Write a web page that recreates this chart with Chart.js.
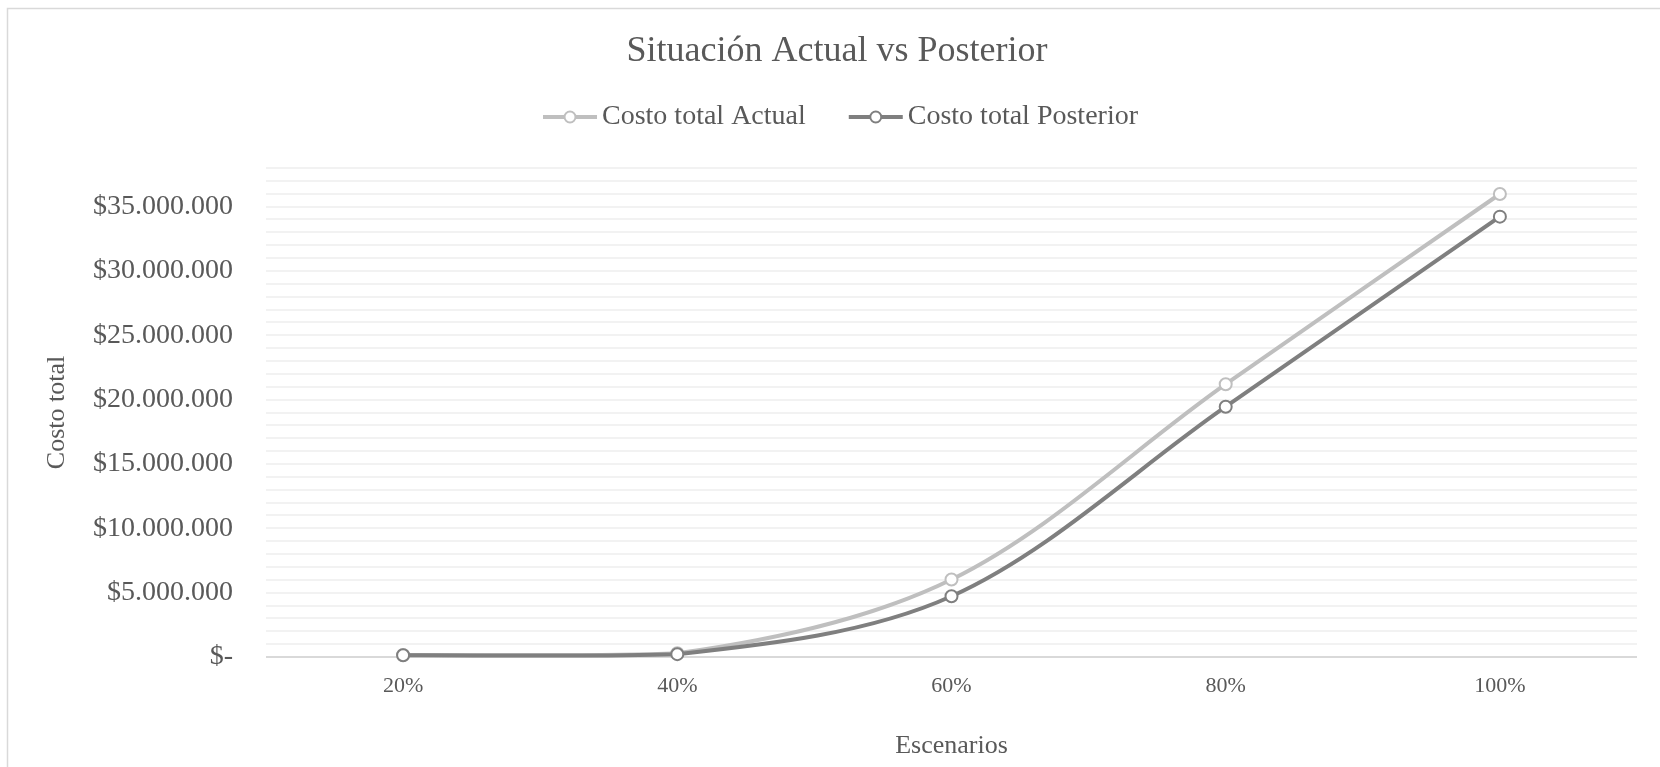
<!DOCTYPE html>
<html>
<head>
<meta charset="utf-8">
<script src="https://cdn.jsdelivr.net/npm/chart.js@4.4.1/dist/chart.umd.min.js"></script>
<style>
  html, body { margin: 0; padding: 0; background: #ffffff; }
  #wrap { width: 1660px; height: 767px; position: relative; }
</style>
</head>
<body>
<div id="wrap"><canvas id="chart"></canvas></div>
<script>
// Scenario categories and total cost per scenario
const categories = ['20%', '40%', '60%', '80%', '100%'];
const costoActual = [150000, 290000, 6020000, 21200000, 35980000];
const costoPosterior = [140000, 220000, 4720000, 19450000, 34220000];
const seriesNames = ['Costo total Actual', 'Costo total Posterior'];

// Axis range: minor grid every 1.000.000, labels every 5.000.000
const yMax = 38000000;
const yStep = 1000000;
const yLabelStep = 5000000;

const SERIF = '"Liberation Serif", "Times New Roman", serif';
const TEXT = '#595959';
const COLORS = ['#BFBFBF', '#7F7F7F'];

function formatPesos(v) {
  if (v === 0) return '$-';
  return '$' + String(Math.round(v)).replace(/\B(?=(\d{3})+(?!\d))/g, '.');
}

// Outer frame of the chart
const framePlugin = {
  id: 'frame',
  beforeDraw(chart) {
    const ctx = chart.ctx;
    ctx.save();
    ctx.fillStyle = '#ffffff';
    ctx.fillRect(0, 0, chart.width, chart.height);
    ctx.strokeStyle = '#D9D9D9';
    ctx.lineWidth = 1.5;
    ctx.strokeRect(7.5, 8.5, chart.width + 20, chart.height + 20);
    ctx.restore();
  }
};

// Legend with a line-and-circle swatch per series
const lineLegendPlugin = {
  id: 'lineLegend',
  afterDraw(chart) {
    const ctx = chart.ctx;
    const ds = chart.data.datasets;
    const swatchW = 54, textGap = 5, itemGap = 43, centerX = 840.5, y = 117;
    ctx.save();
    ctx.font = '28px ' + SERIF;
    ctx.textBaseline = 'middle';
    ctx.textAlign = 'left';
    const widths = ds.map(d => ctx.measureText(d.label).width);
    let total = 0;
    widths.forEach((w, i) => { total += swatchW + textGap + w + (i < widths.length - 1 ? itemGap : 0); });
    let x = centerX - total / 2;
    ds.forEach((d, i) => {
      ctx.strokeStyle = d.borderColor;
      ctx.lineWidth = 4;
      ctx.beginPath();
      ctx.moveTo(x, y);
      ctx.lineTo(x + swatchW, y);
      ctx.stroke();
      ctx.beginPath();
      ctx.arc(x + swatchW / 2, y, 5.5, 0, Math.PI * 2);
      ctx.fillStyle = '#ffffff';
      ctx.fill();
      ctx.lineWidth = 2;
      ctx.stroke();
      ctx.fillStyle = TEXT;
      ctx.fillText(d.label, x + swatchW + textGap, y);
      x += swatchW + textGap + widths[i] + itemGap;
    });
    ctx.restore();
  }
};

function makeSeries(label, data, color, order) {
  return {
    label: label,
    data: data,
    borderColor: color,
    backgroundColor: '#ffffff',
    pointBackgroundColor: '#ffffff',
    pointBorderColor: color,
    pointBorderWidth: 2,
    pointRadius: 6,
    borderWidth: 4,
    tension: 0.33,
    clip: false,
    order: order
  };
}

new Chart(document.getElementById('chart'), {
  type: 'line',
  data: {
    labels: categories,
    datasets: [
      makeSeries(seriesNames[0], costoActual, COLORS[0], 1),
      makeSeries(seriesNames[1], costoPosterior, COLORS[1], 0)
    ]
  },
  options: {
    responsive: true,
    maintainAspectRatio: false,
    animation: false,
    devicePixelRatio: 1,
    layout: { padding: { left: 37, right: 23, top: 0, bottom: 0 } },
    plugins: {
      legend: { display: false },
      tooltip: { enabled: false },
      title: {
        display: true,
        text: 'Situación Actual vs Posterior',
        color: TEXT,
        font: { family: SERIF, size: 36, weight: 'normal', lineHeight: 1.2 },
        padding: { top: 30, bottom: 94.8 }
      }
    },
    scales: {
      x: {
        type: 'category',
        offset: true,
        grid: { display: false, drawTicks: false },
        border: { display: false },
        ticks: {
          color: TEXT,
          font: { family: SERIF, size: 22 },
          padding: 16.5,
          maxRotation: 0
        },
        title: {
          display: true,
          text: 'Escenarios',
          color: TEXT,
          font: { family: SERIF, size: 26, weight: 'normal' },
          padding: { top: 0, bottom: 5 }
        },
        afterFit(scale) { scale.height = 110; }
      },
      y: {
        min: 0,
        max: yMax,
        afterBuildTicks(scale) {
          const ticks = [];
          for (let v = 0; v <= yMax; v += yStep) ticks.push({ value: v });
          scale.ticks = ticks;
        },
        grid: {
          drawTicks: false,
          color: c => (c.tick && c.tick.value === 0 ? '#D9D9D9' : '#F2F2F2'),
          lineWidth: 2
        },
        border: { display: false },
        ticks: {
          autoSkip: false,
          color: TEXT,
          font: { family: SERIF, size: 28 },
          padding: 33,
          callback: v => (v % yLabelStep === 0 ? formatPesos(v) : '')
        },
        title: {
          display: true,
          text: 'Costo total',
          color: TEXT,
          font: { family: SERIF, size: 26, weight: 'normal' },
          padding: { top: 5, bottom: 0 }
        },
        afterFit(scale) { scale.width = 229; }
      }
    }
  },
  plugins: [framePlugin, lineLegendPlugin]
});
</script>
</body>
</html>
